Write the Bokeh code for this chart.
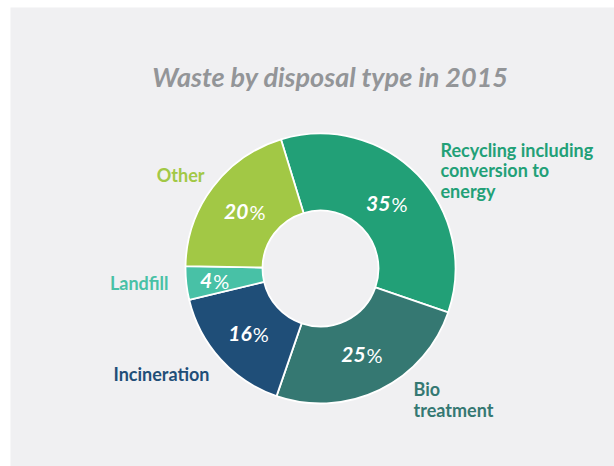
import math
from bokeh.plotting import figure
from bokeh.models import Range1d, ColumnDataSource
from bokeh.core.properties import value
from bokeh.embed import file_html
from bokeh.resources import INLINE

# ---- data ----
categories = ["Recycling including\nconversion to\nenergy", "Bio\ntreatment", "Incineration", "Landfill", "Other"]
shares = [35, 25, 16, 4, 20]
colors = ["#22a077", "#357872", "#1f4e78", "#48c1a6", "#a2c845"]
title_text = "Waste by disposal type in 2015"

# ---- layout ----
W, H = 614, 466
cx, cy = 320, H - 268
r_in, r_out = 58, 135
start_offset = -17  # degrees clockwise from top where first slice starts

p = figure(width=W, height=H, x_range=Range1d(0, W), y_range=Range1d(0, H),
           output_backend="svg", toolbar_location=None, min_border=0)
p.axis.visible = False
p.grid.visible = False
p.outline_line_color = None
p.background_fill_color = "white"
p.border_fill_color = "white"

# grey panel
p.quad(left=10, right=W, bottom=0, top=H - 7, fill_color="#f0f0f2", line_color=None)

total = float(sum(shares))
starts, ends, mids = [], [], []
acc = start_offset
for s in shares:
    a0 = acc
    a1 = acc + 360.0 * s / total
    starts.append(math.radians(90 - a0))
    ends.append(math.radians(90 - a1))
    mids.append((a0 + a1) / 2)
    acc = a1

src = ColumnDataSource(dict(start=starts, end=ends, color=colors))
p.annular_wedge(x=cx, y=cy, inner_radius=r_in, outer_radius=r_out,
                start_angle="start", end_angle="end", direction="clock",
                fill_color="color", line_color="white", line_width=1.8, source=src)

# percentage labels inside ring
lab_r = [93, 96, 97, 112, 94]
px = [cx + r * math.sin(math.radians(m)) for r, m in zip(lab_r, mids)]
py = [cy + r * math.cos(math.radians(m)) for r, m in zip(lab_r, mids)]
nums = [str(s) for s in shares]
psrc = ColumnDataSource(dict(x=px, y=py, num=nums, pct=["%"] * len(nums)))
p.text(x="x", y="y", text="num", source=psrc, x_offset=3, text_align="right",
       text_baseline="middle", text_color="white", text_font=value("Lato"),
       text_font_style="bold italic", text_font_size="21px")
p.text(x="x", y="y", text="pct", source=psrc, x_offset=4, text_align="left",
       text_baseline="middle", text_color="white", text_font=value("Lato"),
       text_font_style="normal", text_font_size="20px")

# category labels
cat_x = [440, 413, 209, 168, 204]
cat_y = [H - 170, H - 399, H - 373, H - 282, H - 174]
cat_align = ["left", "left", "right", "right", "right"]
csrc = ColumnDataSource(dict(x=cat_x, y=cat_y, t=categories, c=colors, a=cat_align))
p.text(x="x", y="y", text="t", source=csrc, text_align="a", text_baseline="middle",
       text_color="c", text_font=value("Lato"), text_font_style="bold",
       text_font_size="18px", text_line_height=0.92)

# title
p.text(x=[330], y=[H - 76], text=[title_text], text_align="center", text_baseline="middle",
       text_color="#939598", text_font=value("Lato"), text_font_style="bold italic",
       text_font_size="27px")

open("out.html", "w").write(file_html(p, INLINE))
